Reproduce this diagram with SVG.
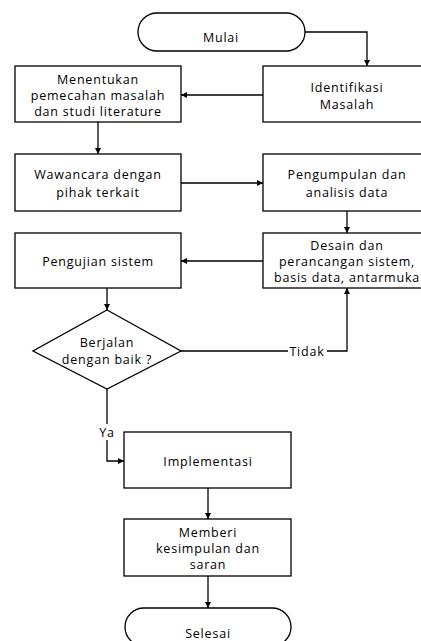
<svg xmlns="http://www.w3.org/2000/svg" width="421" height="641" viewBox="0 0 421 641">
<style>
.box{fill:#fff;stroke:#000;stroke-width:1.3}
.ln{fill:none;stroke:#000;stroke-width:1.3}
text{font-family:"Open Sans","Liberation Sans",sans-serif;font-size:12.5px;text-anchor:middle;dominant-baseline:central;fill:#000;letter-spacing:0.8px}
</style>
<defs>
<marker id="ah" viewBox="0 0 10 10" refX="10" refY="5" markerWidth="6" markerHeight="6" markerUnits="userSpaceOnUse" orient="auto">
<path d="M0,0 L10,5 L0,10 z" fill="#000"/>
</marker>
</defs>
<rect width="421" height="641" fill="#fff"/>
<g id="connectors">
<path class="ln" d="M305,32 H367 V66" marker-end="url(#ah)"/>
<path class="ln" d="M263,95 H181" marker-end="url(#ah)"/>
<path class="ln" d="M98,122 V154" marker-end="url(#ah)"/>
<path class="ln" d="M181,183 H263" marker-end="url(#ah)"/>
<path class="ln" d="M347,211 V233" marker-end="url(#ah)"/>
<path class="ln" d="M263,261 H181" marker-end="url(#ah)"/>
<path class="ln" d="M107,288 V310" marker-end="url(#ah)"/>
<path class="ln" d="M181,351 H288 M327,351 H347 V288" marker-end="url(#ah)"/>
<path class="ln" d="M107,389 V424 M107,440 V461 H124" marker-end="url(#ah)"/>
<path class="ln" d="M208,488 V519" marker-end="url(#ah)"/>
<path class="ln" d="M208,576 V608" marker-end="url(#ah)"/>
<text x="307" y="351">Tidak</text>
<text x="107" y="432">Ya</text>
</g>
<g id="mulai">
<rect class="box" x="138" y="13" width="167" height="38" rx="19" ry="19"/>
<text x="221" y="37">Mulai</text>
</g>
<g id="identifikasi">
<rect class="box" x="263" y="66" width="168" height="56"/>
<text x="347" y="87">Identifikasi</text>
<text x="347" y="104">Masalah</text>
</g>
<g id="menentukan">
<rect class="box" x="15" y="66" width="166" height="56"/>
<text x="98" y="79">Menentukan</text>
<text x="98" y="95">pemecahan masalah</text>
<text x="98" y="111">dan studi literature</text>
</g>
<g id="wawancara">
<rect class="box" x="15" y="154" width="166" height="57"/>
<text x="98" y="174">Wawancara dengan</text>
<text x="98" y="192">pihak terkait</text>
</g>
<g id="pengumpulan">
<rect class="box" x="263" y="154" width="168" height="57"/>
<text x="347" y="174">Pengumpulan dan</text>
<text x="347" y="192">analisis data</text>
</g>
<g id="pengujian">
<rect class="box" x="15" y="233" width="166" height="55"/>
<text x="98" y="261">Pengujian sistem</text>
</g>
<g id="desain">
<rect class="box" x="263" y="233" width="168" height="55"/>
<text x="347" y="245">Desain dan</text>
<text x="347" y="261">perancangan sistem,</text>
<text x="347" y="277">basis data, antarmuka</text>
</g>
<g id="berjalan">
<polygon class="box" points="107,310 181,351 107,389 33,351"/>
<text x="107" y="342">Berjalan</text>
<text x="107" y="359">dengan baik ?</text>
</g>
<g id="implementasi">
<rect class="box" x="124" y="432" width="167" height="56"/>
<text x="208" y="461">Implementasi</text>
</g>
<g id="memberi">
<rect class="box" x="124" y="519" width="167" height="57"/>
<text x="208" y="532">Memberi</text>
<text x="208" y="548">kesimpulan dan</text>
<text x="208" y="564">saran</text>
</g>
<g id="selesai">
<rect class="box" x="125" y="608" width="166" height="38" rx="19" ry="19"/>
<text x="208" y="633">Selesai</text>
</g>
</svg>
